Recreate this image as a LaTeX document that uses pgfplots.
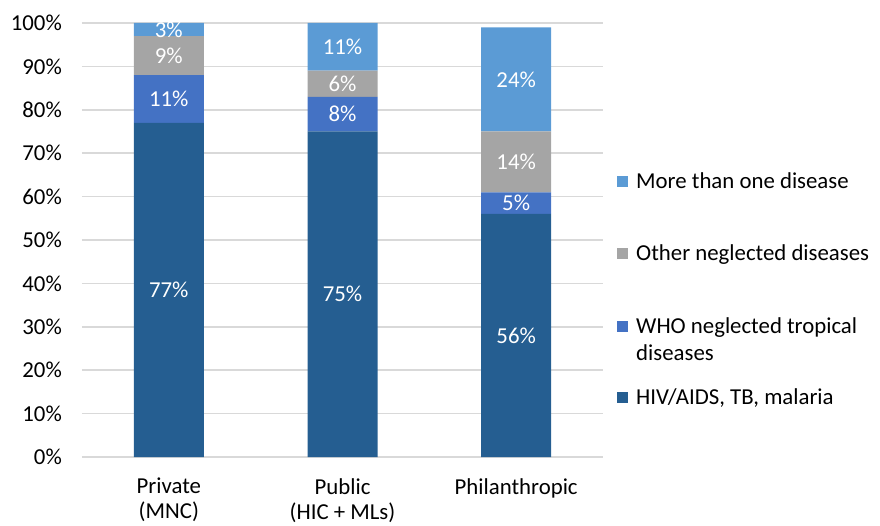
\documentclass[border=0pt]{standalone}
\usepackage{fontspec}
\setmainfont{Carlito}
\usepackage{pgfplots}
\pgfplotsset{compat=1.18}
\definecolor{cHIV}{HTML}{255E91}
\definecolor{cWHO}{HTML}{4472C4}
\definecolor{cOth}{HTML}{A5A5A5}
\definecolor{cMore}{HTML}{5B9BD5}
\definecolor{gridc}{HTML}{D9D9D9}
\begin{document}
\begin{tikzpicture}[font=\fontsize{22.8}{27}\selectfont]
\useasboundingbox (-82pt,-68pt) rectangle (798pt,457pt);
\begin{axis}[
  at={(0pt,0pt)}, anchor=south west,
  scale only axis, width=521pt, height=434pt,
  ybar stacked, bar width=70pt,
  xmin=-0.5, xmax=2.5, ymin=0, ymax=100,
  xtick={0,1,2},
  xticklabels={{Private\\(MNC)},{Public\\(HIC + MLs)},{Philanthropic}},
  x tick label style={align=center, anchor=north, inner sep=0pt, yshift=-21pt, font=\fontsize{22.8}{25}\selectfont},
  ytick={0,10,...,100},
  yticklabel={\pgfmathprintnumber{\tick}\%},
  y tick label style={anchor=east, inner sep=0pt, xshift=-20pt},
  /pgf/number format/assume math mode=true,
  ymajorgrids, grid style={gridc, line width=1.5pt},
  axis line style={draw=none},
  major tick length=0pt, tick style={draw=none},
  point meta=explicit symbolic,
  nodes near coords={\pgfplotspointmeta\%},
  every node near coord/.append style={text=white, anchor=center},
]
\addplot[fill=cHIV, draw=none] coordinates {(0,77) [77] (1,75) [75] (2,56) [56]};
\addplot[fill=cWHO, draw=none] coordinates {(0,11) [11] (1,8) [8] (2,5) [5]};
\addplot[fill=cOth, draw=none] coordinates {(0,9) [9] (1,6) [6] (2,14) [14]};
\addplot[fill=cMore, draw=none] coordinates {(0,3) [3] (1,11) [11] (2,24) [24]};
\end{axis}
% legend
\fill[cMore] (535pt,269.5pt) rectangle (546pt,280.5pt);
\node[anchor=base west, inner sep=0pt] at (554pt,268pt) {More than one disease};
\fill[cOth] (535pt,197.5pt) rectangle (546pt,208.5pt);
\node[anchor=base west, inner sep=0pt] at (554pt,196pt) {Other neglected diseases};
\fill[cWHO] (535pt,125.5pt) rectangle (546pt,136.5pt);
\node[anchor=base west, inner sep=0pt] at (554pt,124pt) {WHO neglected tropical};
\node[anchor=base west, inner sep=0pt] at (554pt,97pt) {diseases};
\fill[cHIV] (535pt,54.5pt) rectangle (546pt,65.5pt);
\node[anchor=base west, inner sep=0pt] at (554pt,53pt) {HIV/AIDS, TB, malaria};
\end{tikzpicture}
\end{document}
